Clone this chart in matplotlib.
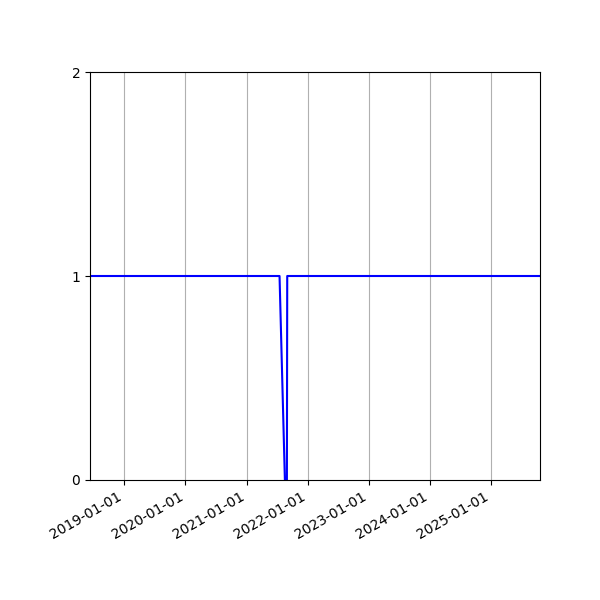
import pandas as pd
import matplotlib
matplotlib.use("Agg")
import matplotlib.pyplot as plt
import matplotlib.dates as mdates

# dates and status values
dates = ["2018-06-10", "2021-07-17", "2021-08-18", "2021-08-30", "2021-09-01", "2025-10-21"]
values = [1, 1, 0, 0, 1, 1]

dates = pd.to_datetime(dates)

fig, ax = plt.subplots(figsize=(6, 6), dpi=100)
ax.plot(dates, values, color="blue", linewidth=1.5)

ax.set_xlim(dates[0], dates[-1])
ax.set_ylim(0, 2)
ax.set_yticks([0, 1, 2])
ax.xaxis.set_major_locator(mdates.YearLocator())
ax.xaxis.set_major_formatter(mdates.DateFormatter("%Y-%m-%d"))
ax.grid(axis="x")

fig.autofmt_xdate()
fig.subplots_adjust(left=0.15, right=0.9, top=0.88, bottom=0.2)
fig.savefig("out.png", dpi=100)
